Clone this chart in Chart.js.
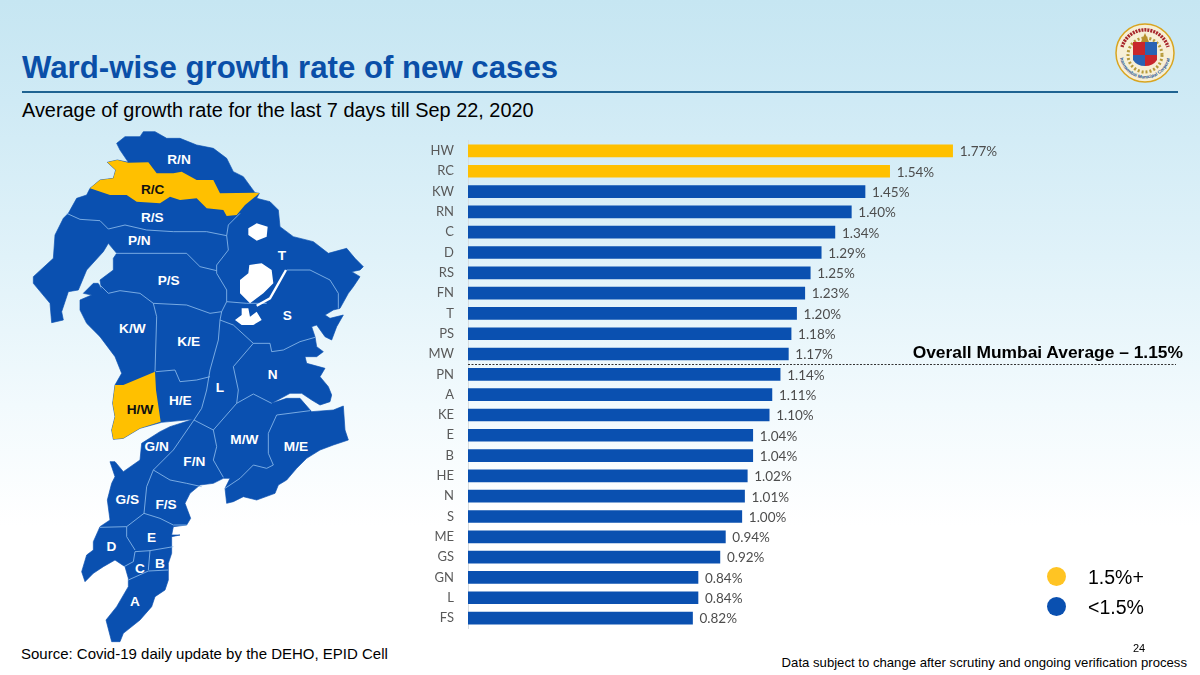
<!DOCTYPE html>
<html>
<head>
<meta charset="utf-8">
<title>Ward-wise growth rate of new cases</title>
<script src="https://cdn.jsdelivr.net/npm/chart.js@4"></script>
<style>
    html, body { margin: 0; padding: 0; }
    body {
        width: 1200px;
        height: 675px;
        overflow: hidden;
        position: relative;
        font-family: "Liberation Sans", Arial, sans-serif;
        background: linear-gradient(180deg, #c6e6f2 0%, #cfeaf5 15%, #e0f2f9 38%, #f2fafd 60%, #ffffff 78%);
    }
    .txt { position: absolute; white-space: nowrap; color: #000; }
    #title { left: 22px; top: 50px; font-size: 31.2px; line-height: 36px; font-weight: bold; color: #0a4fa8; }
    #rule { position: absolute; left: 22px; top: 91px; width: 1156px; height: 1.5px; background: #1f6391; }
    #subtitle { left: 22px; top: 99px; font-size: 19.9px; line-height: 22px; }
    #avg { right: 17px; top: 342px; font-size: 17.4px; line-height: 20px; font-weight: bold; }
    #source { left: 21px; top: 646px; font-size: 15px; line-height: 16px; }
    #note { right: 13px; top: 655px; font-size: 13.15px; line-height: 16px; }
    #page { left: 1133px; top: 641px; font-size: 11px; line-height: 14px; }
    .dot { position: absolute; left: 1047px; width: 19px; height: 19px; border-radius: 50%; }
    .key { left: 1088px; font-size: 19.5px; line-height: 22px; }
    #chart-box { position: absolute; left: 400px; top: 119px; width: 800px; height: 531px; }
    svg { position: absolute; }
</style>
</head>
<body>
<div class="txt" id="title">Ward-wise growth rate of new cases</div>
<div id="rule"></div>
<div class="txt" id="subtitle">Average of growth rate for the last 7 days till Sep 22, 2020</div>

<!-- corporation seal, simplified -->
<svg style="left:1114px;top:22px" width="62" height="62" viewBox="0 0 62 62">
    <circle cx="31" cy="31" r="29" fill="#f7efd6" stroke="#d9a520" stroke-width="1.5"/>
    <path d="M8 25 A24 24 0 0 1 54 25" fill="none" stroke="#a8262c" stroke-width="3.5" stroke-dasharray="2 1"/>
    <path id="seal-arc" d="M6 36 A25.5 25.5 0 0 0 56 36" fill="none"/>
    <text font-size="4.6" font-weight="bold" fill="#1b4f94"><textPath href="#seal-arc" startOffset="50%" text-anchor="middle">Brihanmumbai Municipal Corporation</textPath></text>
    <circle cx="31" cy="33" r="17" fill="none" stroke="#b79a3a" stroke-width="3" stroke-dasharray="2 2"/>
    <path d="M19 20h12v13h-12z" fill="#c8262c"/>
    <path d="M31 20h12v13h-12z" fill="#2a63b4"/>
    <path d="M19 33h12v11q-8 0-12-6z" fill="#2a63b4"/>
    <path d="M31 33h12v5q-4 6-12 6z" fill="#c8262c"/>
    <path d="M27 20l4-9 4 9z" fill="#b8902c"/>
</svg>

<!-- ward map -->
<svg style="left:0;top:130px" width="400" height="520" viewBox="0 0 1200 1560">
    <polygon fill="#0a50b0" stroke="#0a50b0" stroke-width="2" stroke-linejoin="round" points="350,40 375,20 420,20 430,5 465,5 500,25 540,25 590,45 640,55 680,85 700,125 730,140 765,188 778,190 770,205 810,215 835,240 840,290 880,320 940,335 985,370 1040,355 1065,385 1090,410 1080,420 1055,425 1080,440 1060,470 1045,490 1020,535 1000,540 975,555 990,565 1030,555 1010,590 995,630 975,620 950,585 935,590 945,620 950,650 970,665 950,680 915,680 920,700 975,715 960,740 985,770 995,795 990,815 960,825 935,810 905,790 870,790 815,820 860,805 900,805 935,845 1000,840 1030,828 1035,900 1045,930 1000,945 960,960 920,985 890,1015 860,1050 835,1065 825,1090 770,1110 730,1100 700,1115 680,1120 675,1075 690,1045 670,1045 640,1060 600,1065 570,1090 555,1120 572,1165 560,1185 520,1190 515,1215 540,1215 515,1220 515,1270 505,1300 505,1350 495,1380 465,1400 455,1430 420,1470 370,1510 360,1535 335,1535 318,1470 350,1430 385,1370 385,1345 375,1310 345,1290 310,1310 280,1330 255,1355 245,1325 260,1275 280,1260 280,1235 300,1190 330,1170 322,1110 335,1060 345,1040 330,995 345,995 370,1025 420,990 425,940 480,905 510,890 580,868 485,877 420,895 370,925 340,928 335,900 345,860 338,820 345,765 365,730 345,680 300,620 260,580 240,540 240,510 275,495 250,490 280,460 295,460 305,480 300,450 340,420 340,385 350,370 325,340 310,365 260,420 235,480 205,485 185,545 190,570 155,578 150,520 100,460 100,440 160,385 165,315 190,265 205,250 230,205 260,195 270,175 300,150 340,145 347,120 322,97 352,90 385,97 360,60"/>
    <polygon fill="#ffc000" points="270,175 300,150 340,145 347,120 322,97 352,90 385,98 445,97 470,130 520,130 545,125 590,150 640,150 660,190 765,188 778,190 735,225 710,255 680,258 670,240 620,235 590,205 540,210 510,200 480,220 410,215 380,195 330,195"/>
    <polygon fill="#ffc000" points="345,765 370,765 465,725 468,780 482,875 420,895 370,925 340,928 335,900 345,860 338,820"/>
    <g fill="none" stroke="#8dbcec" stroke-width="2.5" stroke-linejoin="round">
        <polyline points="200,250 240,268 300,272 325,297 375,285 440,300 520,305 620,305 680,317"/>
        <polyline points="720,250 685,285 680,317 685,360 650,405 650,430 680,480 680,515 665,545 660,570 655,630 630,720 620,780 605,835 582,870 520,960 460,1020 440,1070 432,1150 380,1190 300,1192"/>
        <polyline points="348,370 420,370 560,370 600,410 650,422"/>
        <polyline points="295,460 325,490 360,482 420,490 460,520 560,525 630,550 665,545"/>
        <polyline points="460,520 470,560 465,725"/>
        <polyline points="468,725 525,720 540,755 590,750 630,740"/>
        <polyline points="680,515 740,520 800,520"/>
        <polyline points="860,420 930,420 990,450 1015,490 1015,535"/>
        <polyline points="660,570 700,585 760,640 810,640 815,665 850,660 900,635 945,622"/>
        <polyline points="760,640 700,710 715,780 710,820 640,900 582,870"/>
        <polyline points="710,820 760,792 815,820"/>
        <polyline points="640,900 650,950 640,990 670,1042"/>
        <polyline points="930,842 830,855 805,910 805,970 820,1005 800,1015 760,1005 720,1045 675,1075"/>
        <polyline points="460,1020 510,1050 560,1060 605,1070"/>
        <polyline points="432,1150 480,1165 520,1185 560,1185"/>
        <polyline points="380,1190 380,1220 405,1260"/>
        <polyline points="405,1265 450,1262 520,1250"/>
        <polyline points="405,1265 400,1295 372,1310"/>
        <polyline points="450,1262 445,1320"/>
        <polyline points="505,1320 445,1323 385,1350"/>
    </g>
    <g fill="#ffffff">
        <polygon points="745,295 770,280 803,290 800,320 770,332 745,315"/>
        <polygon points="748,405 785,400 815,420 820,460 790,490 750,520 720,490 720,450 745,430"/>
        <polygon points="725,535 745,535 750,560 770,545 785,570 760,585 725,585 705,570 725,555"/>
    </g>
    <polyline points="858,420 830,470 810,505 770,527" fill="none" stroke="#ffffff" stroke-width="7"/>
    <g font-size="41" font-weight="bold" fill="#ffffff" text-anchor="middle" dominant-baseline="central">
        <text x="537" y="88">R/N</text>
        <text x="458" y="178" fill="#111111">R/C</text>
        <text x="457" y="262">R/S</text>
        <text x="418" y="331">P/N</text>
        <text x="846" y="375">T</text>
        <text x="506" y="451">P/S</text>
        <text x="397" y="594">K/W</text>
        <text x="566" y="634">K/E</text>
        <text x="862" y="555">S</text>
        <text x="818" y="733">N</text>
        <text x="420" y="838" fill="#111111">H/W</text>
        <text x="541" y="810">H/E</text>
        <text x="660" y="771">L</text>
        <text x="470" y="948">G/N</text>
        <text x="583" y="995">F/N</text>
        <text x="733" y="927">M/W</text>
        <text x="888" y="948">M/E</text>
        <text x="382" y="1107">G/S</text>
        <text x="498" y="1122">F/S</text>
        <text x="455" y="1222">E</text>
        <text x="334" y="1248">D</text>
        <text x="420" y="1314">C</text>
        <text x="480" y="1300">B</text>
        <text x="405" y="1414">A</text>
    </g>
</svg>

<div id="chart-box"><canvas id="ward-chart" width="800" height="531"></canvas></div>

<div class="txt" id="avg">Overall Mumbai Average – 1.15%</div>
<div class="dot" style="top:567px;background:#ffc423"></div>
<div class="txt key" style="top:566px">1.5%+</div>
<div class="dot" style="top:597px;background:#0a50b0"></div>
<div class="txt key" style="top:596px">&lt;1.5%</div>
<div class="txt" id="source">Source: Covid-19 daily update by the DEHO, EPID Cell</div>
<div class="txt" id="page">24</div>
<div class="txt" id="note">Data subject to change after scrutiny and ongoing verification process</div>

<script>
const wards = ['HW', 'RC', 'KW', 'RN', 'C', 'D', 'RS', 'FN', 'T', 'PS', 'MW', 'PN',
    'A', 'KE', 'E', 'B', 'HE', 'N', 'S', 'ME', 'GS', 'GN', 'L', 'FS'];
const growthRates = [1.77, 1.54, 1.45, 1.40, 1.34, 1.29, 1.25, 1.23, 1.20, 1.18, 1.17, 1.14,
    1.11, 1.10, 1.04, 1.04, 1.02, 1.01, 1.00, 0.94, 0.92, 0.84, 0.84, 0.82];
const highThreshold = 1.5;

const GOLD = '#ffc000';
const BLUE = '#0a50b0';

// value labels at the end of each bar
const valueLabels = {
    id: 'valueLabels',
    afterDatasetsDraw(chart) {
        const ctx = chart.ctx;
        const bars = chart.getDatasetMeta(0).data;
        ctx.save();
        ctx.font = '13.5px Lato';
        ctx.fillStyle = '#4d4d4d';
        ctx.textBaseline = 'middle';
        bars.forEach((bar, i) => {
            ctx.fillText(growthRates[i].toFixed(2) + '%', bar.x + 7, bar.y + 1);
        });
        ctx.restore();
    }
};

// dashed line for the city average, falls between MW and PN
const averageLine = {
    id: 'averageLine',
    afterDatasetsDraw(chart) {
        const yScale = chart.scales.y;
        const y = Math.round((yScale.getPixelForValue(wards.indexOf('MW')) + yScale.getPixelForValue(wards.indexOf('PN'))) / 2) + 0.5;
        const ctx = chart.ctx;
        ctx.save();
        ctx.strokeStyle = '#333333';
        ctx.lineWidth = 1;
        ctx.setLineDash([2, 1.5]);
        ctx.beginPath();
        ctx.moveTo(chart.chartArea.left, y);
        ctx.lineTo(776, y);
        ctx.stroke();
        ctx.restore();
    }
};

new Chart(document.getElementById('ward-chart').getContext('2d'), {
    type: 'bar',
    data: {
        labels: wards,
        datasets: [{
            data: growthRates,
            backgroundColor: growthRates.map(v => v >= highThreshold ? GOLD : BLUE),
            barThickness: 12
        }]
    },
    options: {
        indexAxis: 'y',
        responsive: false,
        animation: false,
        devicePixelRatio: 1,
        layout: {
            padding: { left: 0, right: 47.5, top: 1, bottom: 2 }
        },
        plugins: {
            legend: { display: false },
            tooltip: { enabled: false }
        },
        scales: {
            x: {
                display: false,
                min: 0,
                max: 2.5
            },
            y: {
                afterFit(scale) { scale.width = 68; },
                grid: { display: false, drawTicks: false },
                border: { display: true, color: '#d8dde0', width: 1 },
                ticks: {
                    autoSkip: false,
                    padding: 14,
                    color: '#595959',
                    font: { family: 'Lato', size: 13 }
                }
            }
        }
    },
    plugins: [valueLabels, averageLine]
});
</script>
</body>
</html>
